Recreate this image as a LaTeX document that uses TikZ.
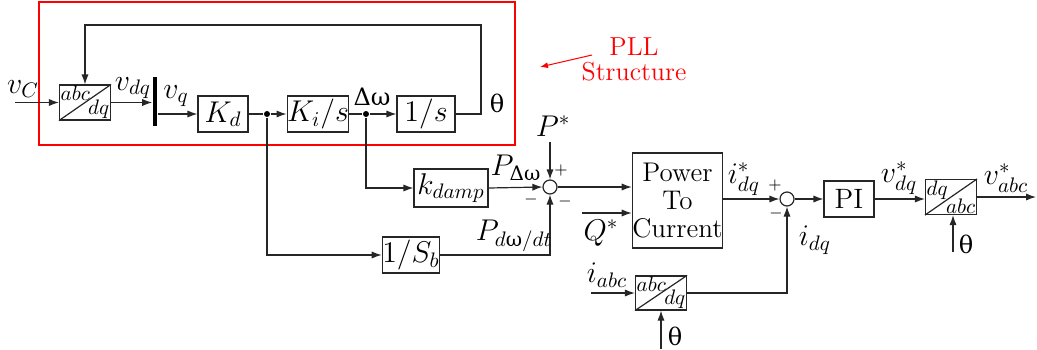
\documentclass[tikz,border=0pt]{standalone}
\usepackage{fix-cm}
\usepackage{fontspec}
\newfontfamily\grk{DejaVu Serif}
\usetikzlibrary{arrows.meta}
\begin{document}
\begin{tikzpicture}[x=0.5pt, y=-0.5pt, line width=0.6pt, draw=black!85,
    >={Latex[length=5pt,width=3.6pt]},
    every node/.style={font=\fontsize{13.5}{14}\selectfont},
    lbl/.style={font=\fontsize{15}{17}\selectfont, inner sep=0pt},
    sgn/.style={font=\fontsize{8}{9}\selectfont, inner sep=0pt},
    block/.style={draw, rectangle, inner sep=0pt, minimum height=18pt, font=\fontsize{15}{17}\selectfont},
    conv/.style={draw, rectangle, inner sep=0pt, minimum width=25.5pt, minimum height=17.5pt},
    corner/.style={inner sep=0.6pt, font=\fontsize{10.5}{11}\selectfont},
    sumnode/.style={draw, circle, minimum size=7pt, inner sep=0pt},
    jn/.style={circle, fill, inner sep=0pt, minimum size=3pt},
    ang/.style={font=\grk\fontsize{12}{13}\selectfont, inner sep=0pt}]
\useasboundingbox (0,0) rectangle (1037,349);

% PLL frame
\draw[red, line width=1pt] (39,2) rectangle (515,145);
\node[red, align=center, font=\fontsize{13}{12.5}\selectfont] (plltxt) at (634,59) {PLL\\Structure};
\coordinate (pllpt) at (540,67);
\draw[red, line width=0.5pt, ->, >={Latex[length=4pt,width=3pt]}] (592,55) -- (pllpt);

% PLL blocks
\node[conv] (tin) at (85,102.5) {};
\draw (tin.south west) -- (tin.north east);
\node[corner, anchor=north west] at (tin.north west) {$abc$};
\node[corner, anchor=south east] at (tin.south east) {$dq$};
\node[fill, inner sep=0pt, minimum width=2.2pt, minimum height=24.5pt] (bar) at (155,101.5) {};
\node[block, minimum width=25pt] (kd) at (223,114) {$K_d$};
\node[block, minimum width=29pt] (ki) at (318,114) {$K_i/s$};
\node[block, minimum width=29pt] (integ) at (426,114) {$1/s$};
\node[jn] (j1) at (267,114) {};
\node[jn] (j2) at (366,114) {};
\coordinate (vcin) at (15,102.5);
\coordinate (fbr) at (481,25);

\draw[->] (vcin) -- (tin.west);
\draw[->] (tin.east) -- (tin.east -| bar.west);
\draw[->] (bar.east |- kd.west) -- (kd.west);
\draw (kd.east) -- (j1);
\draw[->] (j1) -- (ki.west);
\draw (ki.east) -- (j2);
\draw[->] (j2) -- (integ.west);
\draw[->] (integ.east) -| (fbr) -| (tin.north);

\node[lbl] at (23,89) {$v_C$};
\node[lbl] at (133,88) {$v_{dq}$};
\node[lbl] at (176,96) {$v_q$};
\node[ang] at (372,97) {Δω};
\node[ang] at (497,103) {θ};

% power loop
\node[block, minimum width=37pt, minimum height=19pt] (kdamp) at (451,188) {$k_{damp}$};
\node[block, minimum width=28.5pt] (sb) at (411,255) {$1/S_b$};
\node[sumnode] (sum1) at (550,187) {};
\coordinate (pin) at (550,142);
\coordinate (qin) at (582,213);
\node[draw, rectangle, inner sep=0pt, minimum width=44.5pt, minimum height=47.5pt, align=center] (pwr) at (677.5,200.5) {Power\\To\\Current};

\draw[->] (j2) |- (kdamp.west);
\draw[->] (kdamp.east) -- (sum1.west);
\draw[->] (j1) |- (sb.west);
\draw[->] (sb.east) -| (sum1.south);
\draw[->] (pin) -- (sum1.north);
\draw[->] (sum1.east) -- (sum1.east -| pwr.west);
\draw[->] (qin) -- (qin -| pwr.west);

\node[lbl] at (516,168) {$P_{\hbox{\grk\fontsize{10}{10}\selectfont Δω}}$};
\node[lbl] at (553,126) {$P^{*}$};
\node[lbl] at (514,236) {$P_{d\hbox{\grk\fontsize{10}{10}\selectfont ω}/dt}$};
\node[lbl] at (601,233) {$Q^{*}$};
\node[sgn] at (561,170) {$+$};
\node[sgn] at (531,199) {$-$};
\node[sgn] at (565,201) {$-$};

% current loop
\node[sumnode] (sum2) at (787,199) {};
\node[block, minimum width=25pt, font=\fontsize{14}{14}\selectfont] (pi) at (849,199) {PI};
\node[conv] (inv) at (951,197) {};
\draw (inv.south west) -- (inv.north east);
\node[corner, anchor=north west] at (inv.north west) {$dq$};
\node[corner, anchor=south east] at (inv.south east) {$abc$};
\node[conv, minimum height=17pt] (tcur) at (661,293) {};
\draw (tcur.south west) -- (tcur.north east);
\node[corner, anchor=north west] at (tcur.north west) {$abc$};
\node[corner, anchor=south east] at (tcur.south east) {$dq$};
\coordinate (vout) at (1036,197);
\coordinate (th2) at (953,252);
\coordinate (th3) at (661,349);
\coordinate (iin) at (591,293);

\draw[->] (pwr.east |- sum2) -- (sum2.west);
\draw[->] (sum2.east) -- (pi.west);
\draw[->] (pi.east) -- (pi.east -| inv.west);
\draw[->] (inv.east) -- (vout);
\draw[->] (th2) -- (th2 |- inv.south);
\draw[->] (tcur.east) -| (sum2.south);
\draw[->] (iin) -- (tcur.west);
\draw[->] (th3) -- (tcur.south);

\node[lbl] at (744,179) {$i^{*}_{dq}$};
\node[lbl] at (815,240) {$i_{dq}$};
\node[lbl] at (899,178) {$v^{*}_{dq}$};
\node[lbl] at (1006,178) {$v^{*}_{abc}$};
\node[lbl] at (607,275) {$i_{abc}$};
\node[sgn] at (775,185) {$+$};
\node[sgn] at (776,213) {$-$};
\node[ang] at (966,244) {θ};
\node[ang] at (675,336) {θ};
\end{tikzpicture}
\end{document}
